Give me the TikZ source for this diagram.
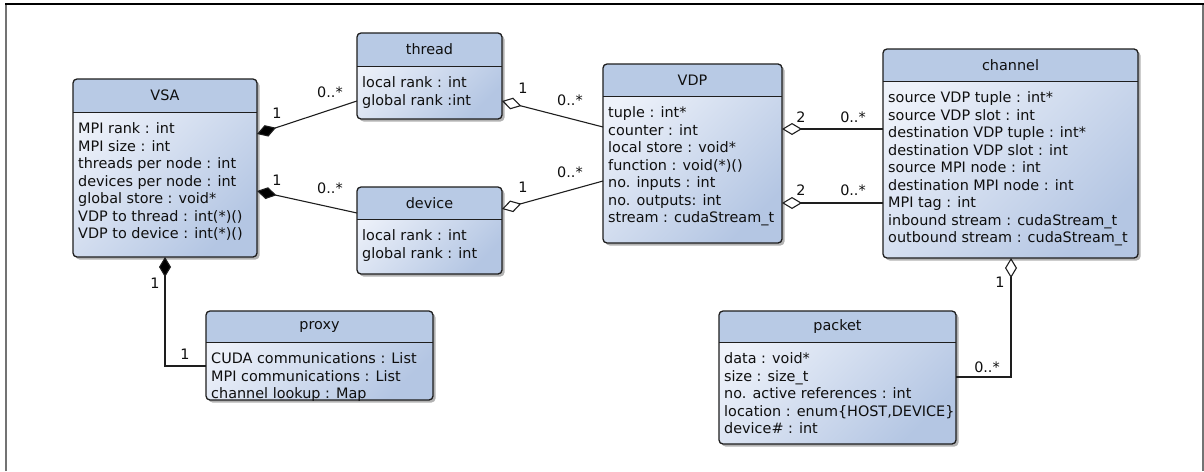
\documentclass[tikz,border=0pt]{standalone}
\usepackage{fontspec}
\setmainfont{DejaVu Sans}
\usetikzlibrary{arrows.meta,shadows,calc}
\definecolor{hdrc}{RGB}{184,202,229}
\definecolor{bodyl}{RGB}{238,242,250}
\definecolor{bodyd}{RGB}{180,198,227}
\definecolor{linec}{RGB}{30,30,30}
\definecolor{txtc}{RGB}{15,15,15}
\tikzset{
  classbox/.style={rectangle, rounded corners=4pt, inner sep=0pt, outer sep=0pt,
    top color=bodyl, bottom color=bodyd, shading angle=45,
    drop shadow={shadow xshift=2.5pt, shadow yshift=-2.5pt, opacity=0.3, fill=black}},
  txt/.style={font=\fontsize{14.4}{17.5}\selectfont, text=txtc, inner sep=0pt},
  ctitle/.style={txt},
  cattr/.style={txt, align=left},
  mult/.style={txt},
  conn/.style={draw=linec, line width=1.1pt},
  comp/.style={conn, -{Diamond[length=20pt 0 0,width=12pt 0 0,fill=black]}},
  agg/.style={conn, -{Diamond[open,length=20pt 0 0,width=12pt 0 0,fill=white]}},
}
\newcommand\umlclass[8]{%
  \node[classbox, minimum width=#4pt, minimum height=#5pt, anchor=north west] (#1) at (#2,#3) {};
  \fill[hdrc] ([yshift=-#6pt]#1.north west) [rounded corners=4pt] -- (#1.north west) -- (#1.north east) [sharp corners] -- ([yshift=-#6pt]#1.north east) -- cycle;
  \draw[linec, line width=0.9pt] ([yshift=-#6pt]#1.north west) -- ([yshift=-#6pt]#1.north east);
  \draw[linec, line width=1.3pt, rounded corners=4pt] (#1.north west) rectangle (#1.south east);
  \node[ctitle] (#1t) at ($(#1.north)+(0,#6/2)$) {#7};
  \node[cattr, anchor=north west] (#1a) at ([xshift=5pt,yshift=-#6pt-10.5pt]#1.north west) {#8};
}
\begin{document}
\begin{tikzpicture}[x=1pt,y=-1pt]
\useasboundingbox (0,0) rectangle (1204,471);
\fill[white] (0,0) rectangle (1204,471);
% outer frame
\draw[black!55, line width=2pt] (6,471) -- (6,4);
\draw[black!55, line width=1.5pt] (1203,4) -- (1203,471);
\draw[black, line width=1.5pt] (5,4) -- (1204,4);

\umlclass{vsa}{73}{79}{184}{178}{33}{VSA}{MPI rank : int\\MPI size : int\\threads per node : int\\devices per node : int\\global store : void*\\VDP to thread : int(*)()\\VDP to device : int(*)()}
\umlclass{thread}{357}{33}{145}{86}{33}{thread}{local rank : int\\global rank :int}
\umlclass{device}{357}{187}{145}{87}{32}{device}{local rank : int\\global rank : int}
\umlclass{vdp}{603}{64}{179}{179}{32}{VDP}{tuple : int*\\counter : int\\local store : void*\\function : void(*)()\\no. inputs : int\\no. outputs: int\\stream : cudaStream\_t}
\umlclass{channel}{883}{49}{255}{209}{32}{channel}{source VDP tuple : int*\\source VDP slot : int\\destination VDP tuple : int*\\destination VDP slot : int\\source MPI node : int\\destination MPI node : int\\MPI tag : int\\inbound stream : cudaStream\_t\\outbound stream : cudaStream\_t}
\umlclass{proxy}{206}{311}{227}{89}{31}{proxy}{CUDA communications : List\\MPI communications : List\\channel lookup : Map}
\umlclass{packet}{719}{311}{237}{133}{31}{packet}{data : void*\\size : size\_t\\no. active references : int\\location : enum\{HOST,DEVICE\}\\device\# : int}

% connectors
\draw[comp] ([yshift=-68pt]thread.north west) -- ([yshift=-55pt]vsa.north east);
\draw[comp] ([yshift=-26pt]device.north west) -- ([yshift=-112pt]vsa.north east);
\draw[agg] ([yshift=-63pt]vdp.north west) -- ([yshift=-68pt]thread.north east);
\draw[agg] ([yshift=-117pt]vdp.north west) -- ([yshift=-22pt]device.north east);
\draw[agg] ([yshift=-80pt]channel.north west) -- ([yshift=-65pt]vdp.north east);
\draw[agg] ([yshift=-154pt]channel.north west) -- ([yshift=-139pt]vdp.north east);
\draw[comp] ([yshift=-55pt]proxy.north west) -| ([xshift=92pt]vsa.south west);
\draw[agg] ([yshift=-66pt]packet.north east) -| ([xshift=128pt]channel.south west);

% multiplicities
\node[mult] (m1) at (277,113) {1};
\node[mult] (m2) at (330,92) {0..*};
\node[mult] (m3) at (277,180) {1};
\node[mult] (m4) at (330,188) {0..*};
\node[mult] (m5) at (523,88) {1};
\node[mult] (m6) at (570,100) {0..*};
\node[mult] (m7) at (523,187) {1};
\node[mult] (m8) at (570,172) {0..*};
\node[mult] (m9) at (801,117) {2};
\node[mult] (m10) at (853,117) {0..*};
\node[mult] (m11) at (801,190) {2};
\node[mult] (m12) at (853,190) {0..*};
\node[mult] (m13) at (155,283) {1};
\node[mult] (m14) at (185,354) {1};
\node[mult] (m15) at (1000,282) {1};
\node[mult] (m16) at (987,367) {0..*};
\end{tikzpicture}
\end{document}
